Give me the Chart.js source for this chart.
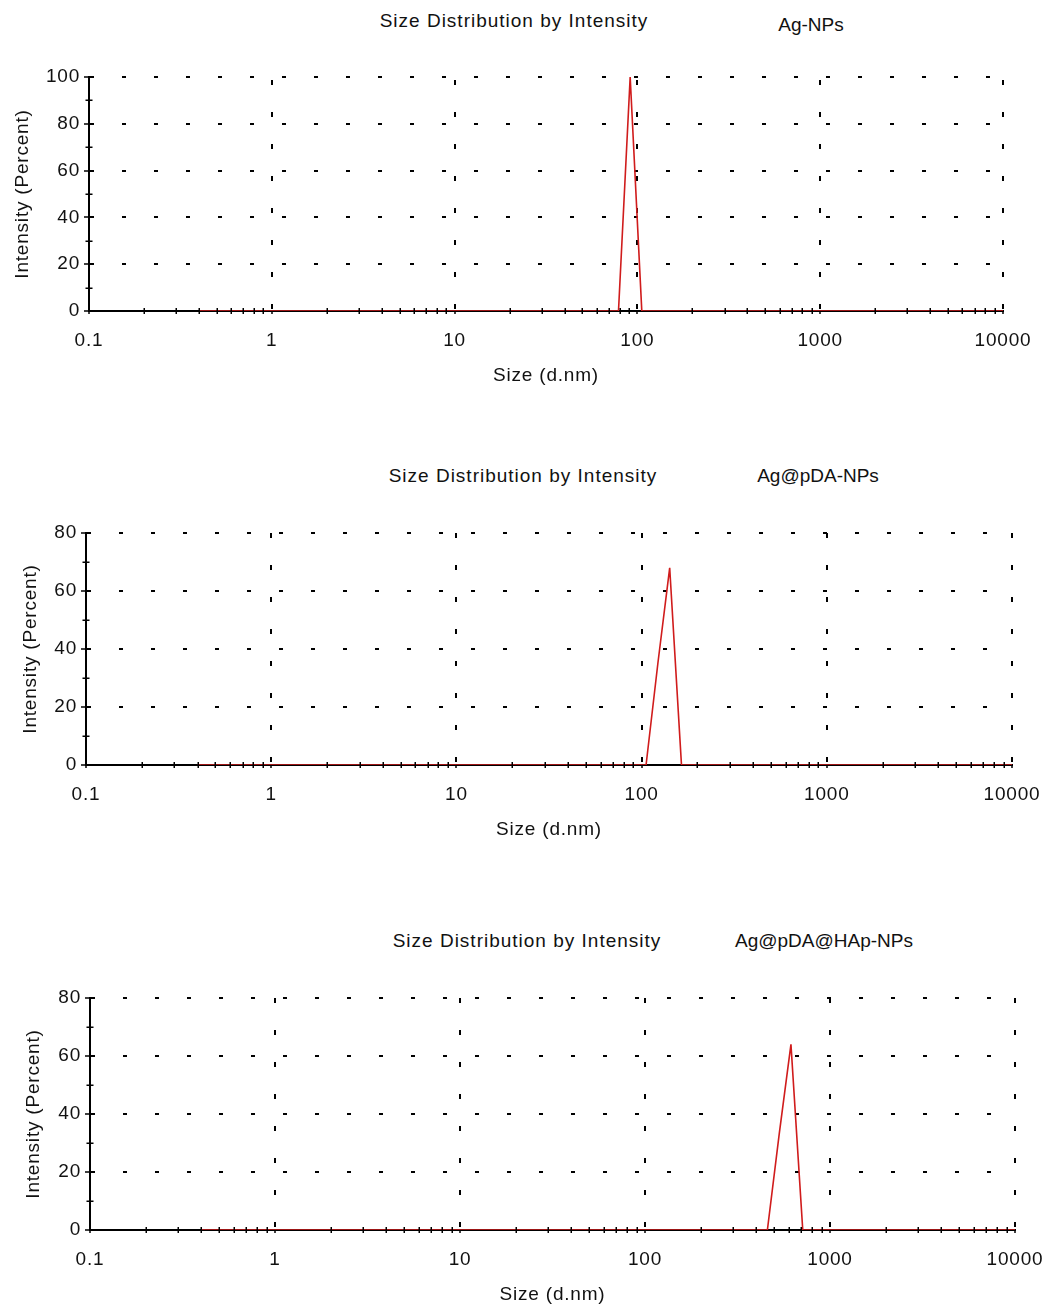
<!DOCTYPE html>
<html lang="en">
<head>
<meta charset="UTF-8">
<title>Size Distribution by Intensity</title>
<style>
  body { margin: 0; width: 1046px; height: 1310px; overflow: hidden; background: #fff; position: relative;
         font-family: "Liberation Sans", Arial, sans-serif; }
  .ttl { position: absolute; font-size: 19px; line-height: 19px; color: #111; white-space: nowrap; transform: translateX(-50%); }
  .main { letter-spacing: 1px; }
  canvas { position: absolute; left: 0; }
</style>
</head>
<body>
<script src="https://cdn.jsdelivr.net/npm/chart.js@4.4.1/dist/chart.umd.min.js"></script>
<script>
// texts
const chartTitle = 'Size Distribution by Intensity';
const sampleNames = ['Ag-NPs', 'Ag@pDA-NPs', 'Ag@pDA@HAp-NPs'];
const xAxisTitle = 'Size (d.nm)';
const yAxisTitle = 'Intensity (Percent)';

// tick labels
const xTicks = [0.1, 1, 10, 100, 1000, 10000];
const xTickLabels = ['0.1', '1', '10', '100', '1000', '10000'];
const yTicksAg = [0, 20, 40, 60, 80, 100];
const yTicksPDA = [0, 20, 40, 60, 80];
const yTicksHAp = [0, 20, 40, 60, 80];

// size (d.nm) / intensity (%)
const sizeAg = [0.4, 78.8, 91.3, 105.7, 10000];
const intAg = [0, 0, 100, 0, 0];
const sizePDA = [0.4, 105.7, 122.4, 141.8, 164.2, 10000];
const intPDA = [0, 0, 35, 68, 0, 0];
const sizeHAp = [0.4, 458.7, 531.2, 615.1, 712.4, 10000];
const intHAp = [0, 0, 33, 64, 0, 0];

// page layout of the three panels
const panels = [
  { name: sampleNames[0], sizes: sizeAg, values: intAg, yTicks: yTicksAg,
    top: 77, bottom: 311, left: 89, right: 1003, yTitleX: 22.5, vDash: -3,
    titleX: 514, nameX: 811, titleBase: 27, nameBase: 31 },
  { name: sampleNames[1], sizes: sizePDA, values: intPDA, yTicks: yTicksPDA,
    top: 533, bottom: 765, left: 86, right: 1012, yTitleX: 30.5, vDash: 0,
    titleX: 523, nameX: 818, titleBase: 482, nameBase: 482 },
  { name: sampleNames[2], sizes: sizeHAp, values: intHAp, yTicks: yTicksHAp,
    top: 998, bottom: 1230, left: 90, right: 1015, yTitleX: 33.5, vDash: 0,
    titleX: 527, nameX: 824, titleBase: 947, nameBase: 947 }
];

const TEXT = '#111';
const X_BOX = 80;   // height of x axis box under the plot
const PAD_TOP = 20;

Chart.defaults.font.family = '"Liberation Sans", Arial, sans-serif';
Chart.defaults.font.size = 19;
Chart.defaults.color = TEXT;

// wider text like the original software
const spacing = {
  id: 'spacing',
  beforeUpdate(c) { c.ctx.letterSpacing = '0.8px'; },
  beforeLayout(c) { c.ctx.letterSpacing = '0.8px'; },
  beforeDraw(c) { c.ctx.letterSpacing = '0.8px'; }
};

// small minor tick marks crossing the axes
const minorTicks = {
  id: 'minorTicks',
  afterDatasetsDraw(chart, args, opts) {
    const { ctx, scales: { x, y } } = chart;
    const y0 = y.getPixelForValue(0);
    const x0 = x.getPixelForValue(xTicks[0]);
    ctx.save();
    ctx.strokeStyle = '#000';
    ctx.lineWidth = 1.5;
    ctx.beginPath();
    xTicks.slice(0, -1).forEach(d => {
      for (let k = 2; k <= 9; k++) {
        const px = Math.round(x.getPixelForValue(k * d)) + 0.25;
        ctx.moveTo(px, y0 - 3);
        ctx.lineTo(px, y0 + 3);
      }
    });
    opts.yTicks.slice(0, -1).forEach((v, i) => {
      const py = Math.round(y.getPixelForValue((v + opts.yTicks[i + 1]) / 2)) + 0.25;
      ctx.moveTo(x0 - 3.5, py);
      ctx.lineTo(x0 + 3.5, py);
    });
    ctx.stroke();
    ctx.restore();
  }
};

function addText(txt, cls, cx, base) {
  const d = document.createElement('div');
  d.className = 'ttl ' + cls;
  d.textContent = txt;
  d.style.left = cx + 'px';
  d.style.top = (base - 16) + 'px';
  document.body.appendChild(d);
}

panels.forEach(p => {
  addText(chartTitle, 'main', p.titleX, p.titleBase);
  addText(p.name, 'name', p.nameX, p.nameBase);

  const cv = document.createElement('canvas');
  const top = p.top - PAD_TOP;
  const h = p.bottom + X_BOX - top;
  cv.width = 1046;
  cv.height = h;
  cv.style.top = top + 'px';
  cv.style.width = '1046px';
  cv.style.height = h + 'px';
  document.body.appendChild(cv);

  new Chart(cv, {
    type: 'line',
    data: {
      datasets: [{
        label: p.name,
        data: p.sizes.map((s, i) => ({ x: s, y: p.values[i] })),
        borderColor: '#d01c1c',
        borderWidth: 1.6,
        pointRadius: 0,
        fill: false,
        tension: 0
      }]
    },
    options: {
      responsive: false,
      devicePixelRatio: 1,
      animation: false,
      events: [],
      layout: { padding: { top: PAD_TOP, right: 1046 - p.right, left: 0, bottom: 0 } },
      plugins: {
        legend: { display: false },
        tooltip: { enabled: false },
        minorTicks: { yTicks: p.yTicks }
      },
      scales: {
        x: {
          type: 'logarithmic',
          min: xTicks[0],
          max: xTicks[xTicks.length - 1],
          afterBuildTicks: s => { s.ticks = xTicks.map(v => ({ value: v })); },
          afterFit: s => { s.height = X_BOX; s.paddingLeft = 0; s.paddingRight = 0; },
          ticks: { autoSkip: false, maxRotation: 0, padding: 15, color: TEXT,
                   callback: (v, i) => xTickLabels[i] },
          grid: { color: '#000', lineWidth: 2, tickLength: 3, tickColor: '#000', tickWidth: 1.5 },
          border: { color: '#000', width: 2, dash: [5, 27], dashOffset: p.vDash },
          title: { display: true, text: xAxisTitle, color: TEXT, padding: { top: 0, bottom: 4 } }
        },
        y: {
          type: 'linear',
          min: p.yTicks[0],
          max: p.yTicks[p.yTicks.length - 1],
          afterBuildTicks: s => { s.ticks = p.yTicks.map(v => ({ value: v })); },
          afterFit: s => { s.width = p.left; },
          ticks: { padding: 4, color: TEXT },
          grid: { color: '#000', lineWidth: 2, tickLength: 5, tickColor: '#000', tickWidth: 1.5 },
          border: { color: '#000', width: 2, dash: [4, 28] },
          title: { display: true, text: yAxisTitle, color: TEXT, padding: { top: p.yTitleX - 11.4, bottom: 0 } }
        }
      }
    },
    plugins: [spacing, minorTicks]
  });
});
</script>
</body>
</html>
